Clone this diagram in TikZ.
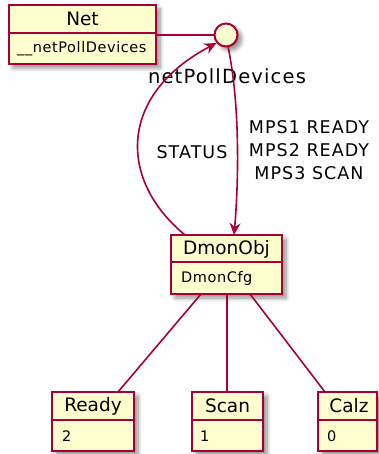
\documentclass[tikz,border=0pt]{standalone}
\usepackage{fontspec}
\setmainfont{DejaVu Sans}
\newfontfamily\lblfont[LetterSpace=6]{DejaVu Sans}
\newfontfamily\attrfont[LetterSpace=4]{DejaVu Sans}
\usetikzlibrary{arrows.meta,shadows.blur,calc}
\definecolor{umlborder}{HTML}{A80036}
\definecolor{umlfill}{HTML}{FEFECE}
\definecolor{umltext}{HTML}{000000}
\tikzset{
  cls/.style={draw=umlborder, fill=umlfill, line width=1.8pt, inner sep=0pt, outer sep=0pt, minimum height=59pt,
    blur shadow={shadow xshift=4pt, shadow yshift=-4pt, shadow blur steps=8, shadow blur radius=4pt, shadow opacity=45}},
  lolli/.style={circle, draw=umlborder, fill=umlfill, line width=2pt, inner sep=0pt, minimum size=23pt,
    blur shadow={shadow xshift=4pt, shadow yshift=-4pt, shadow blur steps=8, shadow blur radius=4pt, shadow opacity=45}},
  divider/.style={fill=umlborder, draw=none},
  ttl/.style={inner sep=0pt, font=\fontsize{18.5}{20}\selectfont, text=umltext},
  attr/.style={inner sep=0pt, anchor=west, font=\attrfont\fontsize{14.5}{16}\selectfont, text=umltext},
  lbl/.style={inner sep=0pt, align=center, font=\lblfont\fontsize{17.5}{23}\selectfont, text=umltext},
  conn/.style={draw=umlborder, line width=1.6pt},
  arr/.style={conn, -{Stealth[length=12pt,width=11pt,inset=4pt]}},
}
\begin{document}
\begin{tikzpicture}[x=1pt,y=-1pt]
\useasboundingbox (0,0) rectangle (379,454);
% classes
\node[cls, minimum width=147pt] (net) at (82.5,34.5) {};
\fill[divider] ([yshift=-27pt]net.north west) rectangle ([yshift=-29pt]net.north east);
\node[ttl] (netT) at (82.5,19) {Net};
\node[attr] (netA) at (17,48.5) {\_\_netPollDevices};

\node[cls, minimum width=111pt] (dmon) at (226.5,264.5) {};
\fill[divider] ([yshift=-26pt]dmon.north west) rectangle ([yshift=-28pt]dmon.north east);
\node[ttl] (dmonT) at (226.5,249) {DmonObj};
\node[attr] (dmonA) at (181,278.5) {DmonCfg};

\node[cls, minimum width=82pt] (ready) at (93,421.5) {};
\fill[divider] ([yshift=-27pt]ready.north west) rectangle ([yshift=-29pt]ready.north east);
\node[ttl] (readyT) at (93,406) {Ready};
\node[attr] (readyA) at (62,436) {2};

\node[cls, minimum width=71pt] (scan) at (227.5,421.5) {};
\fill[divider] ([yshift=-27pt]scan.north west) rectangle ([yshift=-29pt]scan.north east);
\node[ttl] (scanT) at (227.5,406) {Scan};
\node[attr] (scanA) at (200,436) {1};

\node[cls, minimum width=59pt] (calz) at (347.5,421.5) {};
\fill[divider] ([yshift=-27pt]calz.north west) rectangle ([yshift=-29pt]calz.north east);
\node[ttl] (calzT) at (349,406) {Calz};
\node[attr] (calzA) at (327,436) {0};

% lollipop interface
\node[lolli] (npd) at (226,35) {};
\node[lbl, font=\lblfont\fontsize{19.5}{22}\selectfont] (npdL) at (227,76) {netPollDevices};

% connectors
\coordinate (scanTop) at ([xshift=-0.5pt]scan.north);
\draw[conn] (net.east |- npd.west) -- (npd.west);
\draw[arr] (npd.-80) .. controls (241,110) and (238,190) .. ([xshift=7.5pt]dmon.north);
\draw[arr] ([xshift=-41.5pt]dmon.north) .. controls (118,180) and (118,95) .. (npd.-140);
\draw[conn] ([xshift=-25.5pt]dmon.south) -- ([xshift=25pt]ready.north);
\draw[conn, line width=2pt] (dmon.south -| scanTop) -- (scanTop);
\draw[conn] ([xshift=23.5pt]dmon.south) -- ([xshift=-22.5pt]calz.north);

% labels
\node[lbl] (statusL) at (192,152) {STATUS};
\node[lbl] (mpsL) at (309,150) {MPS1 READY\\MPS2 READY\\MPS3 SCAN};
\end{tikzpicture}
\end{document}
